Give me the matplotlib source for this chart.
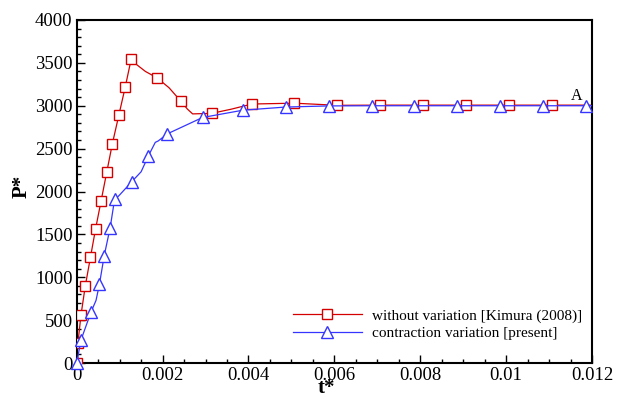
import matplotlib
matplotlib.use("Agg")
import matplotlib.pyplot as plt
from matplotlib.ticker import MultipleLocator, FixedLocator

plt.rcParams['font.family'] = ['Liberation Serif', 'DejaVu Serif']

# Red series: without variation [Kimura (2008)] (marker points)
red_t = [0.0, 0.00003, 0.0001, 0.0002, 0.00032, 0.00044, 0.00057, 0.0007, 0.00083,
         0.00098, 0.00113, 0.00127, 0.00187, 0.00243, 0.00314, 0.00408, 0.00506,
         0.00607, 0.00706, 0.00806, 0.00906, 0.01006, 0.01106]
red_p = [0, 237, 560, 898, 1232, 1565, 1895, 2226, 2556, 2887, 3217, 3547, 3326,
         3051, 2911, 3020, 3030, 3005, 3007, 3007, 3007, 3007, 3007]
# Red curve (line, denser in curved parts)
red_line_t = [0.0, 0.00003, 0.0001, 0.0002, 0.00032, 0.00044, 0.00057, 0.0007, 0.00083,
              0.00098, 0.00113, 0.00127, 0.00137, 0.00160, 0.00187, 0.00215, 0.00243,
              0.00258, 0.00270, 0.00314, 0.00360, 0.00408, 0.00506, 0.00607, 0.00706,
              0.00806, 0.00906, 0.01006, 0.01106, 0.012]
red_line_p = [0, 237, 560, 898, 1232, 1565, 1895, 2226, 2556, 2887, 3217, 3547, 3490,
              3400, 3326, 3210, 3051, 2960, 2905, 2911, 2960, 3020, 3030, 3005, 3007,
              3007, 3007, 3007, 3007, 3007]

# Blue series: contraction variation [present] (marker points)
blue_t = [0.0, 0.0001, 0.00033, 0.00053, 0.00064, 0.00078, 0.0009, 0.00128, 0.00167,
          0.00211, 0.00293, 0.00387, 0.00487, 0.00588, 0.00687, 0.00786, 0.00886,
          0.00986, 0.01087, 0.01186]
blue_p = [0, 268, 590, 920, 1250, 1580, 1910, 2113, 2416, 2672, 2863, 2948, 2985,
          2998, 3000, 3000, 3000, 3000, 3000, 3000]
# Blue curve (line)
blue_line_t = [0.0, 0.0001, 0.00033, 0.00045, 0.00053, 0.00064, 0.00078, 0.00088, 0.0009,
               0.00100, 0.00128, 0.00150, 0.00167, 0.00183, 0.00190, 0.00211, 0.00293,
               0.00387, 0.00487, 0.00588, 0.00687, 0.00786, 0.00886, 0.00986, 0.01087,
               0.01186, 0.012]
blue_line_p = [0, 268, 590, 730, 920, 1250, 1580, 1900, 1910, 1960, 2113, 2230, 2416,
               2573, 2590, 2672, 2863, 2948, 2985, 2998, 3000, 3000, 3000, 3000, 3000,
               3000, 3000]

x_ticks = [0, 0.002, 0.004, 0.006, 0.008, 0.01, 0.012]
x_tick_labels = ['0', '0.002', '0.004', '0.006', '0.008', '0.01', '0.012']
y_ticks = [0, 500, 1000, 1500, 2000, 2500, 3000, 3500, 4000]
y_tick_labels = ['0', '500', '1000', '1500', '2000', '2500', '3000', '3500', '4000']

red = '#d40000'
blue = '#3535ff'

fig = plt.figure(figsize=(6.19, 3.99), dpi=100)
ax = fig.add_axes([0.1239, 0.0902, 0.9564 - 0.1239, 0.9499 - 0.0902])

ax.plot(red_line_t, red_line_p, color=red, lw=0.9, zorder=2)
ax.plot(red_t, red_p, ls='none', marker='s', ms=7, mfc='white', mec=red, mew=1.0, zorder=3)
ax.plot(blue_line_t, blue_line_p, color=blue, lw=0.9, zorder=4)
ax.plot(blue_t, blue_p, ls='none', marker='^', ms=8, mfc='white', mec=blue, mew=1.0, zorder=5,
        clip_on=False)

# legend proxies
ax.plot([], [], color=red, lw=0.9, marker='s', ms=7, mfc='white', mec=red, mew=1.0,
        label='without variation [Kimura (2008)]')
ax.plot([], [], color=blue, lw=0.9, marker='^', ms=8, mfc='white', mec=blue, mew=1.0,
        label='contraction variation [present]')
leg = ax.legend(loc='lower right', bbox_to_anchor=(1.008, 0.027), frameon=False, fontsize=11,
                handlelength=4.5, handletextpad=0.7, labelspacing=0.22)

ax.text(0.01163, 3115, 'A', fontsize=11.5, ha='center', va='center')

ax.set_xlim(0, 0.012)
ax.set_ylim(0, 4000)
ax.xaxis.set_major_locator(FixedLocator(x_ticks))
ax.set_xticklabels(x_tick_labels)
ax.yaxis.set_major_locator(FixedLocator(y_ticks))
ax.set_yticklabels(y_tick_labels)
ax.xaxis.set_minor_locator(MultipleLocator(0.0005))
ax.yaxis.set_minor_locator(MultipleLocator(100))
ax.tick_params(which='both', direction='in', top=False, right=False, labelsize=13.5, width=1.0)
ax.tick_params(which='major', length=6)
ax.tick_params(which='minor', length=3)
ax.tick_params(axis='x', pad=3)
ax.tick_params(axis='y', pad=3)
for s in ax.spines.values():
    s.set_linewidth(1.5)

ax.set_xlabel('t*', fontsize=15, fontweight='bold')
ax.set_ylabel('P*', fontsize=15, fontweight='bold')
ax.xaxis.set_label_coords(0.485, -0.043, transform=ax.transAxes)
ax.yaxis.set_label_coords(-0.087, 0.515, transform=ax.transAxes)

fig.savefig('out.png', dpi=100)
